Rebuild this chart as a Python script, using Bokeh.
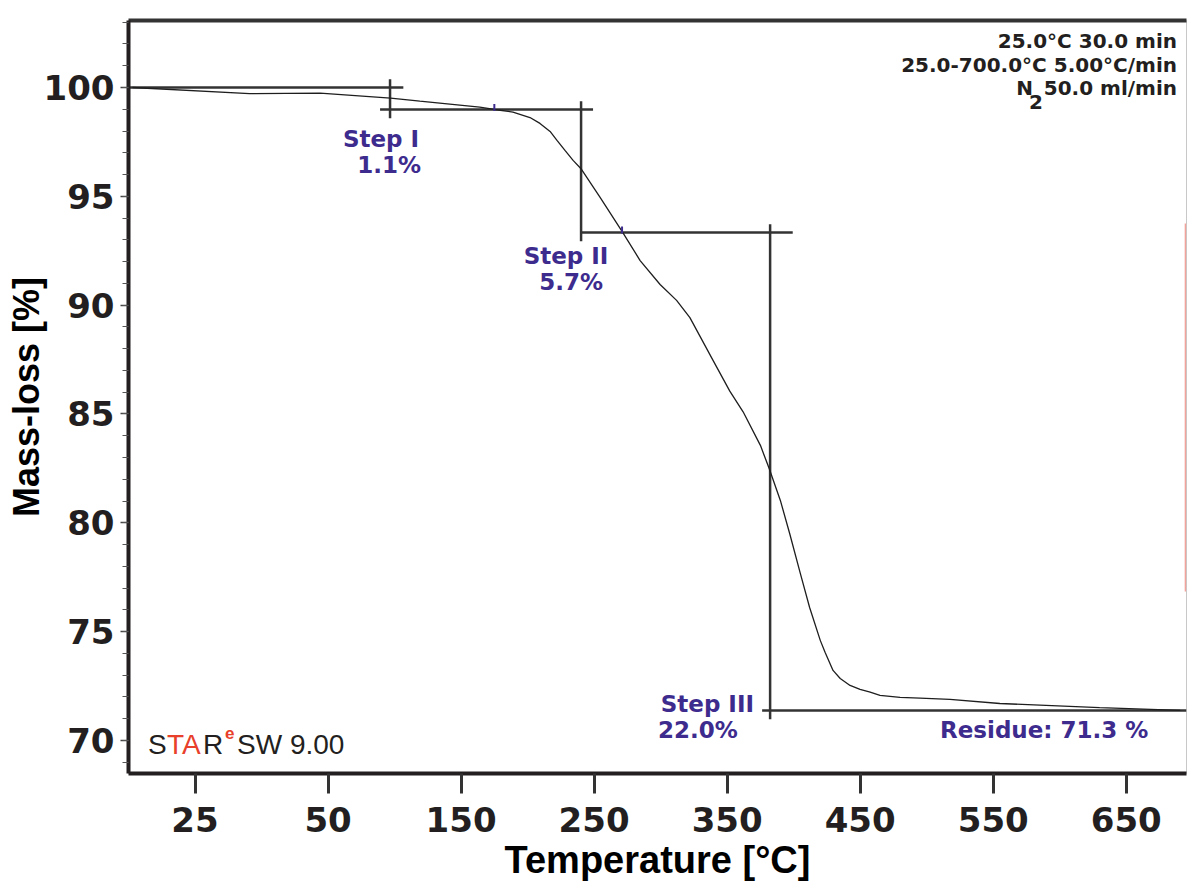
import numpy as np
from bokeh.plotting import figure
from bokeh.models import FixedTicker, LinearAxis, Label, Range1d
from bokeh.embed import file_html
from bokeh.resources import INLINE

# ---------------- data ----------------
temperature = [-97, -9, 44, 97, 119, 164, 175, 189, 201.8, 209.3, 216.9, 222.1, 228.1,
               234.2, 240, 254.5, 271, 284.6, 299.6, 312, 322, 339.5, 352, 362, 375,
               381.6, 390, 397, 405, 412, 420, 423.6, 429.6, 435, 442.4, 449.9, 457.5,
               464.9, 480, 495, 517.5, 555, 630, 690.6]
mass = [100.0, 99.72, 99.74, 99.51, 99.37, 99.10, 98.99, 98.87, 98.62, 98.35, 97.98,
        97.57, 97.11, 96.65, 96.28, 94.95, 93.39, 92.05, 90.95, 90.22, 89.43, 87.45,
        86.05, 85.10, 83.56, 82.50, 81.03, 79.51, 77.68, 76.11, 74.60, 74.05, 73.22,
        72.85, 72.53, 72.35, 72.22, 72.07, 71.98, 71.95, 71.89, 71.70, 71.51, 71.38]

step_T = [96.6, 240.2, 382.3]              # step boundary temperatures
step_levels = [100.0, 98.99, 93.34, 71.38]  # horizontal mass levels
step_names = ["Step I", "Step II", "Step III"]
step_pct = ["1.1%", "5.7%", "22.0%"]
residue_label = "Residue: 71.3 %"

inflection_T = [175, 271]
inflection_mass = [99.08, 93.45]

x_tick_pos = [-50, 50, 150, 250, 350, 450, 550, 650]
x_tick_labels = ["25", "50", "150", "250", "350", "450", "550", "650"]
y_major = [70, 75, 80, 85, 90, 95, 100]
y_minor = list(range(69, 104))

method_lines = ["25.0°C 30.0 min", "25.0-700.0°C 5.00°C/min", "50.0 ml/min"]

X0, X1 = -100, 695.3
Y0, Y1 = 68.484, 103.078

DARK = "#231f20"
PURPLE = "#3d2b8e"
RED = "#e8402a"

# helpers converting reference layout pixels to data positions for text placement
def px2x(px):
    return 50 + (px - 328) / 1.3304

def px2y(py):
    return 100 - (py - 87) / 21.77

p = figure(width=1187, height=885, x_range=Range1d(X0, X1), y_range=Range1d(Y0, Y1),
           output_backend="svg", toolbar_location=None,
           min_border_left=128, min_border_right=1, min_border_top=20, min_border_bottom=112,
           background_fill_color="white", border_fill_color="white")
p.grid.visible = False
p.outline_line_color = "#c8c8c8"
p.outline_line_width = 1

# ---- x axis
xa = p.xaxis[0]
xa.ticker = FixedTicker(ticks=x_tick_pos)
xa.major_label_overrides = {float(k): v for k, v in zip(x_tick_pos, x_tick_labels)}
xa.axis_line_width = 4
xa.axis_line_color = DARK
xa.major_tick_line_width = 3
xa.major_tick_line_color = "#333333"
xa.major_tick_out = 20
xa.major_tick_in = 0
xa.minor_tick_line_color = None
xa.major_label_text_font = "DejaVu Sans"
xa.major_label_text_font_style = "bold"
xa.major_label_text_font_size = "34px"
xa.major_label_text_color = DARK
xa.major_label_standoff = 13
xa.axis_label = "Temperature [°C]"
xa.axis_label_text_font = "Liberation Sans"
xa.axis_label_text_font_style = "bold"
xa.axis_label_text_font_size = "38px"
xa.axis_label_text_color = "black"
xa.axis_label_standoff = 4

# ---- y axis
ya = p.yaxis[0]
ya.ticker = FixedTicker(ticks=y_major, minor_ticks=y_minor)
ya.axis_line_width = 4
ya.axis_line_color = DARK
ya.major_tick_line_width = 1.5
ya.major_tick_line_color = "#444444"
ya.major_tick_out = 8
ya.major_tick_in = 0
ya.minor_tick_line_width = 1.2
ya.minor_tick_line_color = "#555555"
ya.minor_tick_out = 6
ya.minor_tick_in = 0
ya.major_label_text_font = "DejaVu Sans"
ya.major_label_text_font_style = "bold"
ya.major_label_text_font_size = "34px"
ya.major_label_text_color = DARK
ya.major_label_standoff = 6
ya.axis_label = "Mass-loss [%]"
ya.axis_label_text_font = "Liberation Sans"
ya.axis_label_text_font_style = "bold"
ya.axis_label_text_font_size = "36px"
ya.axis_label_text_color = "black"
ya.axis_label_standoff = -6

# ---- top frame line
top = LinearAxis(ticker=FixedTicker(ticks=[]), axis_line_width=4, axis_line_color="#333333",
                 major_tick_line_color=None, minor_tick_line_color=None,
                 major_label_text_font_size="0px")
p.add_layout(top, "above")

# ---- step construction lines
hx0 = [X0, step_T[0] - 7.5, step_T[1], step_T[2] - 6]
hx1 = [step_T[0] + 10, step_T[1] + 9, step_T[2] + 17, X1]
p.segment(x0=hx0, y0=step_levels, x1=hx1, y1=step_levels, line_color="#333333", line_width=2.5)
vy0 = [step_levels[i] + 0.38 for i in range(3)]
vy1 = [step_levels[i + 1] - 0.4 for i in range(3)]
p.segment(x0=step_T, y0=vy0, x1=step_T, y1=vy1, line_color="#333333", line_width=2.5)

# ---- TGA curve
p.line(temperature, mass, line_color="#1e1e1e", line_width=1.3)

# small inflection markers
p.scatter(inflection_T, inflection_mass, marker="dash", angle=np.pi / 2, size=7,
          line_color=PURPLE, line_width=2)

# faint red marker line at right edge
p.segment(x0=[X1 - 0.8], y0=[px2y(223)], x1=[X1 - 0.8], y1=[px2y(591)],
          line_color="#f2a49c", line_width=1.5)

# ---- text labels (anchor = reference baseline, raised 8px for renderer offset)
def lab(xpx, ypx, text, align="center", color=PURPLE, size="23px", font="DejaVu Sans", style="bold"):
    p.add_layout(Label(x=px2x(xpx), y=px2y(ypx - 8), text=text, text_align=align,
                       text_baseline="alphabetic", text_color=color, text_font=font,
                       text_font_size=size, text_font_style=style))

lab(381, 147, step_names[0])
lab(389, 173, step_pct[0])
lab(566, 264, step_names[1])
lab(571, 290, step_pct[1])
lab(754, 712, step_names[2], align="right")
lab(658, 738, step_pct[2], align="left")
lab(940, 738, residue_label, align="left")

# ---- method text (top right)
lab(1177, 48, method_lines[0], align="right", color=DARK, size="20px")
lab(1177, 72, method_lines[1], align="right", color=DARK, size="20px")
lab(1177, 96, method_lines[2], align="right", color=DARK, size="20px")
lab(1033, 96, "N", align="right", color=DARK, size="20px")
lab(1029, 110, "2", align="left", color=DARK, size="20px")

# ---- software tag
lab(148, 752, "S", align="left", color=DARK, size="28px", font="Liberation Sans", style="normal")
lab(167, 752, "TA", align="left", color=RED, size="28px", font="Liberation Sans", style="normal")
lab(203, 752, "R", align="left", color=DARK, size="28px", font="Liberation Sans", style="normal")
lab(225, 741, "e", align="left", color=RED, size="17px", font="Liberation Sans", style="bold")
lab(237, 752, "SW 9.00", align="left", color=DARK, size="28px", font="Liberation Sans", style="normal")

open("out.html", "w").write(file_html(p, INLINE))
